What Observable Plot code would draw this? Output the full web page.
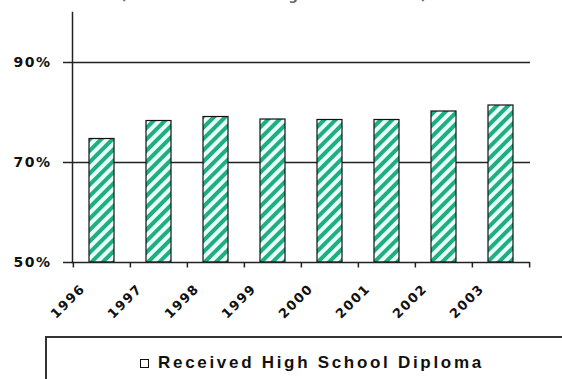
<!DOCTYPE html>
<html>
<head>
<meta charset="utf-8">
<script src="https://cdn.jsdelivr.net/npm/d3@7"></script>
<script src="https://cdn.jsdelivr.net/npm/@observablehq/plot@0.6"></script>
<style>
  html, body { margin: 0; padding: 0; background: #fff; width: 562px; height: 379px; overflow: hidden; }
  #wrap { position: relative; width: 562px; height: 379px; overflow: hidden; }
  #title { position: absolute; top: -12px; left: 0; width: 548px; text-align: center;
           font: bold 13px "DejaVu Sans", sans-serif; letter-spacing: 1px; color: #666; white-space: nowrap; }
  #chart { position: absolute; top: 0; left: 0; }
  #legend { position: absolute; left: 45px; top: 336px; width: 600px; height: 90px;
            border: 2px solid #333; box-sizing: border-box; background: #fff; }
  #legend .item { position: absolute; left: 93px; top: 15px; display: flex; align-items: center;
                  font: bold 17px "Liberation Sans", Arial, sans-serif; letter-spacing: 2.7px; color: #111; white-space: nowrap; }
  #legend .swatch { width: 7px; height: 7px; border: 1px solid #111; background: #fff; margin-right: 9px; }
</style>
</head>
<body>
<div id="wrap">
  <div id="title">(Percent of Adults Age 25 and Older)</div>
  <div id="chart"></div>
  <div id="legend"><div class="item"><span class="swatch"></span><span id="legend-label"></span></div></div>
</div>
<script>
// Graduation years and share of adults holding a high school diploma (%)
const years = ["1996", "1997", "1998", "1999", "2000", "2001", "2002", "2003"];
const diplomaPct = [74.7, 78.3, 79.1, 78.6, 78.5, 78.5, 80.2, 81.4];
const yTicks = [50, 70, 90];
const seriesName = "Received High School Diploma";

const data = years.map((year, i) => ({year, value: diplomaPct[i]}));

const width = 562, marginLeft = 72, marginRight = 32;
const bandwidth = (width - marginLeft - marginRight) / years.length;

const chart = Plot.plot({
  width,
  height: 336,
  marginLeft,
  marginRight,
  marginTop: 12,
  marginBottom: 74,
  style: {background: "transparent", color: "#111"},
  x: {domain: years, padding: 0, axis: null, label: null},
  y: {domain: [50, 100], axis: null, label: null},
  marks: [
    // horizontal gridlines
    Plot.ruleY(yTicks.filter(v => v > 50), {stroke: "#222", strokeWidth: 1.3}),
    // bars with diagonal hatching
    Plot.barY(data, {x: "year", y1: 50, y2: "value", fill: "url(#hatch)", stroke: "#111",
                     strokeWidth: 1.2, insetLeft: 16, insetRight: 16}),
    // axis lines
    Plot.frame({anchor: "left", stroke: "#222", strokeWidth: 1.5}),
    Plot.ruleY([50], {stroke: "#222", strokeWidth: 1.5}),
    // category boundary ticks
    Plot.ruleX(years, {x: d => d, y1: 48.9, y2: 50, dx: -bandwidth / 2, stroke: "#222", strokeWidth: 1.5}),
    Plot.ruleX(years.slice(-1), {x: d => d, y1: 48.9, y2: 50, dx: bandwidth / 2, stroke: "#222", strokeWidth: 1.5}),
    // y axis
    Plot.axisY({ticks: yTicks, tickSize: 9, tickPadding: 12, tickFormat: d => d + "%", label: null,
                fontWeight: "bold", fontSize: 14, fontFamily: "DejaVu Sans", stroke: "#222", strokeWidth: 1.5}),
    // rotated year labels
    Plot.axisX({tickSize: 0, tickPadding: 8, tickRotate: -45, dx: -19, dy: 16, label: null,
                fontWeight: "bold", fontSize: 13, fontFamily: "DejaVu Sans"})
  ]
});

// hatch pattern for the bars
const defs = d3.select(chart).insert("defs", ":first-child");
const pat = defs.append("pattern")
  .attr("id", "hatch")
  .attr("patternUnits", "userSpaceOnUse")
  .attr("width", 8).attr("height", 8)
  .attr("patternTransform", "rotate(45)");
pat.append("rect").attr("width", 8).attr("height", 8).attr("fill", "#e8fffa");
pat.append("rect").attr("width", 4).attr("height", 8).attr("fill", "#1fae80");

d3.select(chart).selectAll("g[aria-label='y-axis tick label'] text")
  .style("letter-spacing", "1.5px");
d3.select(chart).selectAll("g[aria-label='x-axis tick label'] text")
  .style("letter-spacing", "1.5px");

document.getElementById("chart").appendChild(chart);
document.getElementById("legend-label").textContent = seriesName;
</script>
</body>
</html>
